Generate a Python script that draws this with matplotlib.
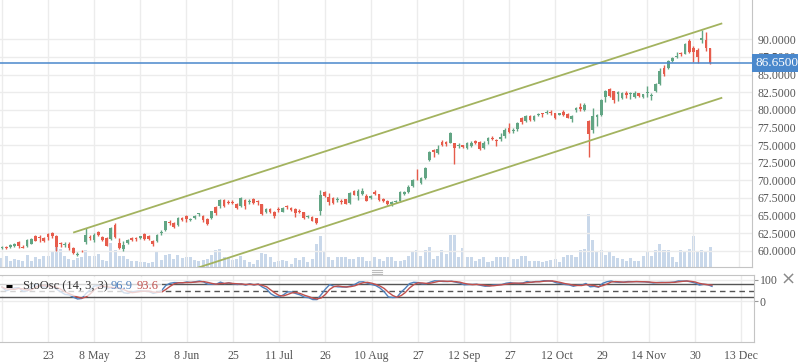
import numpy as np
import pandas as pd
import matplotlib
matplotlib.use("Agg")
import matplotlib.pyplot as plt
import matplotlib.transforms as mtransforms
from matplotlib.patches import Rectangle
from matplotlib.lines import Line2D

plt.rcParams['font.family'] = ['Liberation Serif', 'DejaVu Serif']

# daily bars, April -> December (one entry per trading day)
opens = [
    60.35, 60.55, 60.55, 60.6, 61.2, 60.55, 60.7, 61.0, 62.05, 62.0,
    61.85, 62.35, 62.55, 62.05, 61.15, 60.85, 61.0, 60.45, 59.35, 60.0,
    61.3, 61.9, 61.5, 62.6, 61.9, 61.8, 61.65, 63.7, 61.15, 60.2,
    61.05, 61.75, 61.85, 61.75, 62.35, 62.1, 61.4, 61.45, 62.5, 62.95,
    64.05, 63.9, 63.7, 64.7, 64.9, 64.35, 64.6, 65.15, 64.95, 64.5,
    64.6, 66.2, 66.3, 67.2, 66.95, 66.9, 66.6, 66.4, 67.2, 66.85,
    67.35, 67.0, 66.6, 65.5,
    65.95, 65.55, 65.95, 65.55, 66.3, 66.0, 65.85, 65.7, 65.45, 64.75,
    64.85, 64.6, 65.7, 68.4, 67.65, 67.45, 67.2, 67.1, 67.3, 66.75,
    68.5, 67.75, 68.0, 67.8, 67.5, 68.35, 68.0, 67.3, 67.0, 66.6,
    66.9, 67.05, 68.1, 68.4, 69.25, 70.35, 69.6, 70.3, 72.9, 74.3,
    73.9, 75.45, 75.4, 75.35, 75.25, 74.85, 74.95, 74.55, 74.85, 75.55,
    75.4, 74.55, 75.5, 76.05, 75.7, 75.9, 76.3, 77.4, 76.95, 77.25,
    78.8, 78.35, 79.1, 78.6, 79.25, 79.55, 79.55, 79.7, 79.5, 79.3,
    79.65, 79.4, 78.7, 79.95, 80.45, 80.0, 78.4, 77.15, 79.0, 79.25,
    81.85, 82.95, 82.6, 82.25, 81.65, 82.45, 82.2, 81.8, 82.35, 81.75,
    82.35, 82.0, 82.7, 83.65, 85.95, 86.0, 86.95, 87.45, 88.1, 87.95,
    89.75, 88.8, 88.5, 89.95, 89.9, 88.7,
]
highs = [
    60.65, 60.7, 61.0, 61.05, 61.4, 60.8, 61.6, 61.8, 62.3, 62.2,
    62.0, 62.5, 62.7, 62.2, 61.3, 61.2, 61.2, 60.55, 59.8, 60.15,
    63.2, 62.3, 62.5, 62.75, 62.05, 61.95, 63.35, 64.0, 61.8, 61.35,
    61.7, 61.9, 62.0, 62.15, 62.5, 62.2, 61.55, 62.4, 62.9, 64.25,
    64.4, 64.05, 64.75, 64.85, 65.0, 64.7, 65.0, 65.4, 65.05, 64.65,
    65.7, 66.3, 67.35, 67.3, 67.2, 67.15, 66.75, 67.65, 67.4, 67.3,
    67.45, 67.2, 66.7, 66.1,
    66.1, 65.6, 66.2, 66.15, 66.5, 66.2, 66.0, 65.85, 65.55, 65.0,
    64.95, 64.7, 68.6, 68.5, 68.2, 67.6, 67.6, 67.4, 67.4, 68.35,
    68.6, 68.75, 68.85, 68.1, 67.85, 68.6, 68.1, 67.5, 67.15, 67.05,
    67.25, 68.5, 68.45, 69.3, 70.15, 71.6, 70.5, 71.85, 74.2, 74.45,
    75.0, 75.75, 75.5, 76.8, 75.35, 75.3, 75.05, 75.45, 75.55, 75.65,
    75.5, 75.6, 76.2, 76.25, 75.85, 76.7, 77.35, 78.1, 77.45, 78.3,
    78.95, 79.3, 79.2, 79.3, 79.6, 79.6, 80.0, 79.9, 79.55, 79.6,
    79.9, 79.5, 79.2, 80.45, 80.9, 80.9, 78.5, 80.2, 79.35, 81.5,
    82.8, 83.05, 82.7, 82.7, 82.5, 82.65, 82.55, 82.6, 82.45, 82.3,
    83.35, 82.35, 83.75, 85.95, 86.4, 87.05, 87.45, 88.2, 88.2, 89.5,
    90.0, 89.0, 88.8, 91.3, 91.0, 88.75,
]
lows = [
    60.2, 60.2, 60.45, 60.5, 60.4, 60.35, 60.55, 60.9, 61.35, 61.2,
    61.3, 61.55, 61.85, 60.0, 60.5, 60.5, 60.1, 59.5, 59.2, 59.75,
    60.9, 61.5, 61.3, 62.1, 61.4, 60.6, 61.5, 61.8, 60.3, 59.95,
    60.9, 61.4, 61.4, 61.65, 61.55, 61.5, 60.7, 61.3, 62.2, 62.85,
    63.7, 63.2, 63.55, 64.15, 64.1, 64.2, 64.5, 64.95, 64.1, 63.6,
    64.45, 65.1, 66.1, 66.2, 66.6, 66.6, 65.9, 66.15, 65.95, 66.7,
    66.7, 66.5, 65.1, 65.35,
    65.35, 64.7, 65.5, 65.45, 65.95, 65.6, 64.75, 65.4, 64.5, 64.6,
    64.15, 63.8, 65.1, 67.6, 66.5, 66.6, 66.85, 66.6, 66.6, 66.6,
    67.85, 67.2, 67.85, 67.0, 67.3, 67.9, 67.1, 66.9, 66.5, 66.4,
    66.75, 66.9, 67.95, 68.25, 69.1, 70.1, 69.45, 70.15, 72.75, 73.35,
    73.7, 74.8, 74.85, 75.25, 72.25, 74.55, 74.55, 74.4, 74.7, 75.1,
    74.3, 74.45, 75.2, 75.7, 74.9, 75.6, 76.0, 76.65, 76.7, 77.05,
    77.95, 78.2, 78.45, 78.45, 79.15, 78.95, 79.4, 79.2, 78.7, 79.2,
    79.1, 78.85, 78.3, 79.75, 79.85, 79.85, 73.35, 76.75, 77.75, 79.1,
    81.15, 81.8, 81.0, 81.3, 81.5, 81.7, 81.5, 81.7, 81.8, 81.65,
    81.85, 81.45, 82.55, 83.5, 84.75, 85.85, 86.8, 87.35, 87.6, 87.85,
    88.05, 86.8, 86.6, 89.5, 88.35, 86.55,
]
closes = [
    60.5, 60.35, 60.75, 60.95, 60.6, 60.4, 61.5, 61.6, 61.45, 61.85,
    61.45, 61.9, 62.05, 60.55, 61.0, 61.0, 60.35, 59.65, 59.6, 59.9,
    62.2, 61.75, 62.3, 62.3, 61.55, 60.7, 63.2, 61.95, 60.45, 60.85,
    61.5, 61.55, 61.6, 62.05, 61.7, 61.65, 60.9, 62.3, 62.65, 64.15,
    63.9, 63.35, 64.6, 64.3, 64.5, 64.55, 64.9, 65.3, 64.3, 63.8,
    65.6, 65.3, 67.2, 66.3, 66.8, 66.75, 66.05, 67.45, 66.3, 67.0,
    66.75, 66.85, 65.25, 65.95,
    65.5, 64.9, 65.8, 66.0, 66.15, 65.75, 65.3, 65.55, 64.6, 64.9,
    64.25, 63.9, 67.9, 67.75, 66.95, 66.8, 67.35, 66.9, 66.7, 68.15,
    67.95, 68.5, 68.5, 67.1, 67.7, 68.0, 67.2, 67.05, 66.6, 66.95,
    67.05, 68.3, 68.3, 69.1, 70.0, 70.25, 70.3, 71.7, 74.05, 73.95,
    74.45, 74.95, 75.1, 76.65, 74.55, 75.0, 74.7, 75.25, 75.35, 75.25,
    74.4, 75.35, 76.0, 75.8, 75.5, 76.15, 77.2, 76.9, 77.15, 78.15,
    78.3, 79.1, 78.55, 79.15, 79.45, 79.4, 79.75, 79.55, 78.8, 79.5,
    79.2, 78.9, 79.05, 80.2, 80.1, 80.65, 76.55, 79.1, 79.25, 81.4,
    82.65, 81.95, 81.4, 82.5, 82.35, 82.15, 82.35, 82.45, 81.9, 82.2,
    82.55, 82.15, 83.6, 85.5, 85.1, 86.9, 87.3, 87.65, 87.85, 89.4,
    88.15, 88.25, 87.45, 90.15, 88.75, 86.65,
]
volumes = [
    9.0, 10.6, 5.6, 8.3, 7.3, 6.3, 12.3, 5.6, 9.6, 8.3,
    10.6, 11.3, 15.6, 22, 18, 10.6, 8, 7.3, 9, 9.6,
    17.3, 10.6, 10.6, 13.3, 7.3, 6.3, 24, 16.6, 11.3, 11.3,
    8, 5.6, 5.6, 4.6, 4.6, 4, 4.6, 15.6, 7.3, 12.3,
    13.3, 8.3, 12.3, 9, 9.6, 9.6, 7.3, 5.6, 7.3, 8.3,
    12.3, 17.3, 18.3, 10, 9, 6.6, 8, 11.3, 6.6, 4.6,
    3.3, 6.6, 14, 13.3,
    10, 5, 6.3, 7.3, 5.7, 3.3, 9, 7.3, 9.7, 5,
    8.3, 23, 31.3, 16.3, 10.3, 6.7, 9.7, 9.7, 10.3, 8.3,
    8.3, 10.3, 10.3, 5.7, 6.3, 10.3, 8.3, 6.3, 10.3, 10.3,
    6.3, 6.3, 7.3, 10.7, 16.3, 17.3, 11.3, 17.3, 20.3, 8.3,
    11.3, 17.3, 13.3, 32.3, 32.3, 10.3, 19.3, 10.3, 10.3, 6.3,
    8.3, 10.3, 5.3, 6.3, 9.7, 10.3, 9.7, 9.7, 7.7, 8.3,
    11.3, 10.6, 5.6, 6.3, 5.6, 4.6, 5.6, 6.6, 8, 4.6,
    9.6, 11.6, 12.3, 9.6, 16.6, 18, 53.3, 27.3, 15.6, 17.3,
    12.3, 15.6, 11.3, 9, 8, 5.6, 9, 6.3, 5.6, 10.6,
    15.6, 10.6, 16.6, 23.3, 16.6, 16.6, 9.6, 4.6, 16.6, 15.6,
    18.3, 30.6, 14.6, 16.6, 14.6, 19.6,
]

# a date label every 11 bars, first one falls off the left edge
tick_step = 11
tick_labels = ['', '23', '8 May', '23', '8 Jun', '25', '11 Jul', '26', '10 Aug',
               '27', '12 Sep', '27', '12 Oct', '29', '14 Nov', '30', '13 Dec']

# drawn trend channel (bar index, price)
channel_x = [17.0, 171.9]
channel_upper = [62.57, 92.27]
channel_lower = [51.85, 81.72]

last_price = 86.65
sto_k_last, sto_d_last = '96.9', '93.6'

GREEN = '#62a584'
RED = '#e65c4c'
VOL = '#c9d8ea'
BLUE = '#4a88cc'
K_COL = '#4f81bd'
D_COL = '#c0504d'
GRID = '#ececec'
BORDER = '#c4c4c4'
TXT = '#555555'

o = np.array(opens)
h = np.array(highs)
l = np.array(lows)
c = np.array(closes)
idx = np.arange(len(c))

# stochastic oscillator (14, 3, 3)
df = pd.DataFrame({'h': h, 'l': l, 'c': c})
hh = df['h'].rolling(14, min_periods=1).max()
ll = df['l'].rolling(14, min_periods=1).min()
raw_k = 100 * (df['c'] - ll) / (hh - ll)
sto_k = raw_k.rolling(3, min_periods=1).mean()
sto_d = sto_k.rolling(3, min_periods=1).mean()

W, H = 798, 363
fig = plt.figure(figsize=(W / 100, H / 100), dpi=100)
fig.patch.set_facecolor('white')

xmin, xmax = -0.46, 179.0
ax_right = 752 / W
main_rect = [0, 1 - 267 / H, ax_right, 267 / H]

# volume underneath the price panel
ax_vol = fig.add_axes(main_rect)
ax_vol.bar(idx, volumes, width=0.72, color=VOL, linewidth=0)
ax_vol.set_xlim(xmin, xmax)
ax_vol.set_ylim(0, max(volumes) / 0.2)
ax_vol.axis('off')

ax = fig.add_axes(main_rect)
ax.set_facecolor('none')
ax.set_xlim(xmin, xmax)
ax.set_ylim(57.69, 95.58)

ticks_x = np.arange(0, tick_step * len(tick_labels), tick_step)
ax.set_xticks(ticks_x)
ax.set_xticklabels([])
ax.set_yticks(np.arange(60, 90.01, 2.5))
ax.yaxis.tick_right()
ax.yaxis.set_major_formatter(plt.FormatStrFormatter('%.4f'))
ax.tick_params(axis='y', length=0, pad=4, labelsize=8.5, labelcolor=TXT)
ax.tick_params(axis='x', length=0)
ax.grid(True, color=GRID, lw=1)
ax.set_axisbelow(True)
for s in ['top', 'left']:
    ax.spines[s].set_visible(False)
for s in ['right', 'bottom']:
    ax.spines[s].set_color(BORDER)

colors = np.where(c >= o, GREEN, RED)
ax.vlines(idx, l, h, colors=colors, lw=1, zorder=3)
body_low = np.minimum(o, c)
body_h = np.maximum(np.abs(c - o), 0.09)
ax.bar(idx, body_h, bottom=body_low, width=0.66, color=colors, linewidth=0, zorder=4)

ax.plot(channel_x, channel_upper, color='#a3b35f', lw=1.3, zorder=5, solid_capstyle='butt')
ax.plot(channel_x, channel_lower, color='#a3b35f', lw=1.3, zorder=5, solid_capstyle='butt')

ax.axhline(last_price, color=BLUE, lw=1.1, zorder=6)
trans = mtransforms.blended_transform_factory(ax.transAxes, ax.transData)
ax.text(1.005, last_price, f'{last_price:.4f}', transform=trans, ha='left', va='center',
        color='white', fontsize=9.5, zorder=10, clip_on=False,
        bbox=dict(boxstyle='square,pad=0.25', fc=BLUE, ec='none'))

# stochastic panel
ax_s = fig.add_axes([0, 1 - 342 / H, 754 / W, 67 / H])
ax_s.set_xlim(xmin, xmax)
ax_s.set_ylim(-195.2, 123.8)
ax_s.plot(idx, sto_k, color=K_COL, lw=1, zorder=3)
ax_s.plot(idx, sto_d, color=D_COL, lw=1, zorder=3)
ax_s.axhline(80, color='#555555', lw=1, zorder=2)
ax_s.axhline(20, color='#555555', lw=1, zorder=2)
ax_s.axhline(50, color='#555555', lw=1, ls=(0, (4, 3)), zorder=2)
ax_s.set_xticks(ticks_x)
ax_s.set_xticklabels(tick_labels)
ax_s.set_yticks([0, 100])
ax_s.set_yticklabels(['0', '100'])
ax_s.yaxis.tick_right()
ax_s.tick_params(axis='y', length=3, width=0.8, color='#999999', pad=1,
                 labelsize=8.5, labelcolor=TXT)
ax_s.tick_params(axis='x', length=0, pad=6, labelsize=8.5, labelcolor=TXT)
ax_s.grid(True, color=GRID, lw=1)
ax_s.set_axisbelow(True)
ax_s.spines['left'].set_visible(False)
for s in ['top', 'right', 'bottom']:
    ax_s.spines[s].set_color(BORDER)

# legend strip over the oscillator
ax_s.add_patch(Rectangle((0, 0.69), 162 / 754, 0.28, transform=ax_s.transAxes,
                         fc='white', ec='none', alpha=0.75, zorder=4))
ax_s.plot([6 / 754, 12 / 754], [0.836, 0.836], transform=ax_s.transAxes,
          color='black', lw=2.2, zorder=5, solid_capstyle='butt')
ax_s.text(23 / 754, 0.836, 'StoOsc (14, 3, 3)', transform=ax_s.transAxes,
          ha='left', va='center', fontsize=9, color='#333333', zorder=6)
ax_s.text(111 / 754, 0.836, sto_k_last, transform=ax_s.transAxes,
          ha='left', va='center', fontsize=9, color=K_COL, zorder=6)
ax_s.text(137 / 754, 0.836, sto_d_last, transform=ax_s.transAxes,
          ha='left', va='center', fontsize=9, color=D_COL, zorder=6)

# close icon and resize handle
fig.text(788 / W, 1 - 279.5 / H, '\u00d7', ha='center', va='center',
         fontsize=13, color='#8a8a8a', family='DejaVu Sans')
for yy in (269.5, 271.5, 273.5):
    fig.add_artist(Line2D([372 / W, 382 / W], [1 - yy / H, 1 - yy / H],
                          color='#bdbdbd', lw=0.8))

fig.savefig('out.png', dpi=100, facecolor='white')
